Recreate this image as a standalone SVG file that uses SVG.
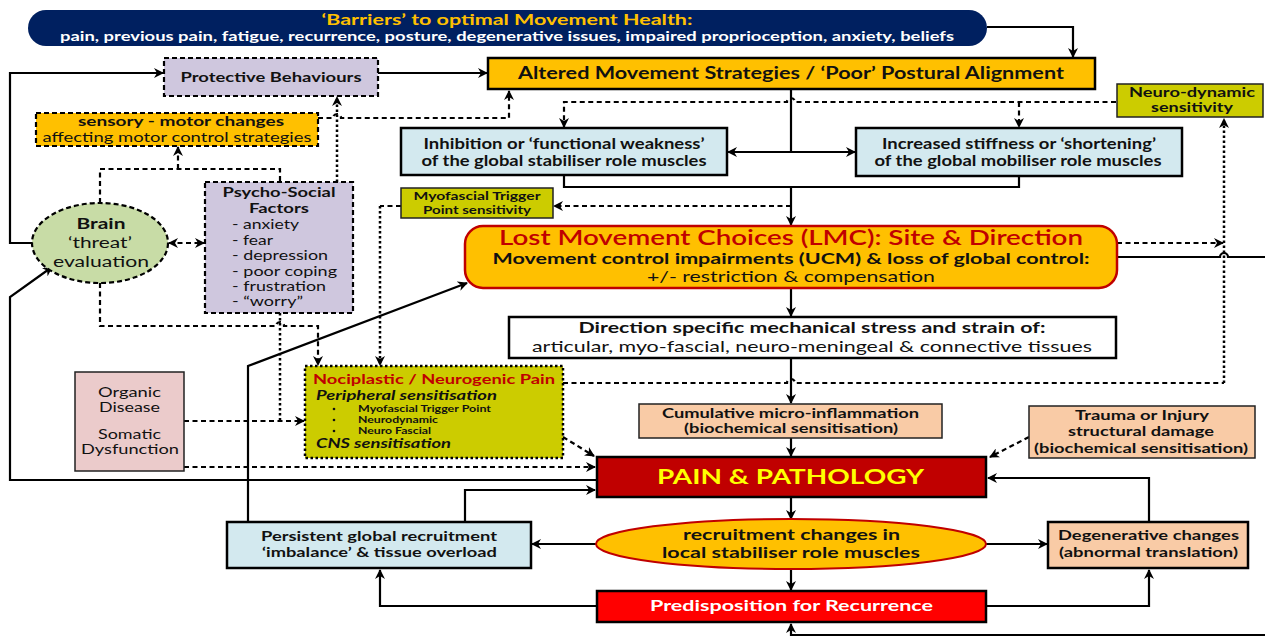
<svg xmlns="http://www.w3.org/2000/svg" width="1265" height="637" viewBox="0 0 1265 637">
  <style>
    text { font-family: Lato, "Liberation Sans", sans-serif; fill: #111; }
    .b { font-weight: bold; }
    .box { stroke: #000; stroke-width: 2.5; }
    .thin { stroke: #222; stroke-width: 1.5; }
    .dash { stroke: #000; stroke-width: 2.2; stroke-dasharray: 5 3; }
    .dot { stroke: #000; stroke-width: 2.5; stroke-dasharray: 2.5 2.5; }
    .c { fill: none; stroke: #000; stroke-width: 2.2; }
    .d { fill: none; stroke: #000; stroke-width: 2.2; stroke-dasharray: 5 3.5; }
    .t { fill: none; stroke: #000; stroke-width: 2.5; stroke-dasharray: 2.5 2.5; }
    .lav { fill: #CFC7DE; }
    .gold { fill: #FFC000; }
    .blue { fill: #D3E9EF; }
    .olive { fill: #CCCC00; }
    .peach { fill: #F9CBA6; }
  </style>
  <defs>
    <marker id="ah" viewBox="0 0 10 10" refX="9" refY="5" markerWidth="10" markerHeight="10" markerUnits="userSpaceOnUse" orient="auto-start-reverse">
      <path d="M0,0 L10,5 L0,10 L3,5 z" fill="#000"/>
    </marker>
  </defs>

  <!-- connectors -->
  <g id="connectors">
    <!-- solid -->
    <path class="c" d="M987,27 H1073 V57" marker-end="url(#ah)"/>
    <path class="c" d="M378,73 H487" marker-end="url(#ah)"/>
    <path class="c" d="M33,243 H10 V73 H163" marker-end="url(#ah)"/>
    <path class="c" d="M791,89 V152"/>
    <path class="c" d="M728,152 H855" marker-start="url(#ah)" marker-end="url(#ah)"/>
    <path class="c" d="M564,176 V187 H1019 V176"/>
    <path class="c" d="M791,187 V225" marker-end="url(#ah)"/>
    <path class="c" d="M791,288 V316" marker-end="url(#ah)"/>
    <path class="c" d="M791,358 V403" marker-end="url(#ah)"/>
    <path class="c" d="M791,438 V456" marker-end="url(#ah)"/>
    <path class="c" d="M791,497 V519" marker-end="url(#ah)"/>
    <path class="c" d="M791,569 V590" marker-end="url(#ah)"/>
    <path class="c" d="M596,544 H532" marker-end="url(#ah)"/>
    <path class="c" d="M986,544 H1047" marker-end="url(#ah)"/>
    <path class="c" d="M1149,522 V478 H988" marker-end="url(#ah)"/>
    <path class="c" d="M986,606 H1149 V570" marker-end="url(#ah)"/>
    <path class="c" d="M597,606 H380 V570" marker-end="url(#ah)"/>
    <path class="c" d="M465,522 V490 H595" marker-end="url(#ah)"/>
    <path class="c" d="M248,522 V366 L467,283" marker-end="url(#ah)"/>
    <path class="c" d="M597,480 H10 V297 L52,267" marker-end="url(#ah)"/>
    <path class="c" d="M1117,257 H1220 a4,4 0 0 1 8,0 H1275 V635 H791 V624" marker-end="url(#ah)"/>
    <!-- dashed / dotted -->
    <path class="d" d="M1116,102 H795 a4,4 0 0 0 -8,0 H564 V127" marker-end="url(#ah)"/>
    <path class="d" d="M1019,102 V127" marker-end="url(#ah)"/>
    <path class="d" d="M1117,243 H1223" marker-end="url(#ah)"/>
    <path class="d" d="M563,383 H787 a4,4 0 0 1 8,0 H1224"/>
    <path class="t" d="M1224,383 V119" marker-end="url(#ah)"/>
    <path class="d" d="M791,206 H554" marker-end="url(#ah)"/>
    <path class="d" d="M401,206 H380"/>
    <path class="t" d="M380,206 V365" marker-end="url(#ah)"/>
    <path class="d" d="M100,283 V326 H276 a4,4 0 0 1 8,0 H318 V365" marker-end="url(#ah)"/>
    <path class="t" d="M280,313 V421"/>
    <path class="d" d="M184,421 H304" marker-end="url(#ah)"/>
    <path class="d" d="M184,467 H595" marker-end="url(#ah)"/>
    <path class="d" d="M563,437 L594,456" marker-end="url(#ah)"/>
    <path class="d" d="M1029,437 L990,457" marker-end="url(#ah)"/>
    <path class="d" d="M100,203 V169 H280 V182"/>
    <path class="d" d="M178,169 V147" marker-end="url(#ah)"/>
    <path class="t" d="M337,182 V97" marker-end="url(#ah)"/>
    <path class="d" d="M318,118 H333 a4,4 0 0 1 8,0 H509 V91" marker-end="url(#ah)"/>
    <path class="d" d="M169,243 H204" marker-start="url(#ah)" marker-end="url(#ah)"/>
  </g>

  <!-- nodes -->
  <g id="barriers">
    <rect x="28" y="10" width="959" height="36" rx="18" fill="#002060"/>
    <text x="507" y="25" text-anchor="middle" class="b" font-size="16" textLength="371" lengthAdjust="spacingAndGlyphs" style="fill:#FFC000">‘Barriers’ to optimal Movement Health:</text>
    <text x="507" y="41" text-anchor="middle" class="b" font-size="14" textLength="894" lengthAdjust="spacingAndGlyphs" style="fill:#fff">pain, previous pain, fatigue, recurrence, posture, degenerative issues, impaired proprioception, anxiety, beliefs</text>
  </g>

  <g id="protective">
    <rect x="164" y="58" width="214" height="38" class="lav dash"/>
    <text x="271" y="82" text-anchor="middle" class="b" font-size="14" textLength="181" lengthAdjust="spacingAndGlyphs">Protective Behaviours</text>
  </g>

  <g id="altered">
    <rect x="488" y="58" width="607" height="31" class="gold box"/>
    <text x="791" y="79" text-anchor="middle" class="b" font-size="16.5" textLength="546" lengthAdjust="spacingAndGlyphs">Altered Movement Strategies / ‘Poor’ Postural Alignment</text>
  </g>

  <g id="neurodynamic">
    <rect x="1117" y="84" width="146" height="33" class="olive thin"/>
    <text x="1192" y="97" text-anchor="middle" class="b" font-size="13" textLength="126" lengthAdjust="spacingAndGlyphs">Neuro-dynamic</text>
    <text x="1192" y="112" text-anchor="middle" class="b" font-size="13" textLength="82" lengthAdjust="spacingAndGlyphs">sensitivity</text>
  </g>

  <g id="sensory-motor">
    <rect x="36" y="113" width="282" height="33" class="gold dash"/>
    <text x="181" y="126" text-anchor="middle" class="b" font-size="14" textLength="206" lengthAdjust="spacingAndGlyphs">sensory - motor changes</text>
    <text x="177" y="142" text-anchor="middle" font-size="14" textLength="269" lengthAdjust="spacingAndGlyphs">affecting motor control strategies</text>
  </g>

  <g id="inhibition">
    <rect x="401" y="128" width="326" height="47" class="blue box"/>
    <text x="564" y="149" text-anchor="middle" class="b" font-size="14.5" textLength="281" lengthAdjust="spacingAndGlyphs">Inhibition or ‘functional weakness’</text>
    <text x="564" y="166" text-anchor="middle" class="b" font-size="14.5" textLength="285" lengthAdjust="spacingAndGlyphs">of the global stabiliser role muscles</text>
  </g>

  <g id="stiffness">
    <rect x="856" y="128" width="326" height="48" class="blue box"/>
    <text x="1019" y="149" text-anchor="middle" class="b" font-size="14.5" textLength="274" lengthAdjust="spacingAndGlyphs">Increased stiffness or ‘shortening’</text>
    <text x="1018" y="166" text-anchor="middle" class="b" font-size="14.5" textLength="287" lengthAdjust="spacingAndGlyphs">of the global mobiliser role muscles</text>
  </g>

  <g id="trigger-point">
    <rect x="401" y="188" width="152" height="30" class="olive thin"/>
    <text x="477" y="200" text-anchor="middle" class="b" font-size="11.5" textLength="127" lengthAdjust="spacingAndGlyphs">Myofascial Trigger</text>
    <text x="477" y="214" text-anchor="middle" class="b" font-size="11.5" textLength="108" lengthAdjust="spacingAndGlyphs">Point sensitivity</text>
  </g>

  <g id="brain">
    <ellipse cx="100" cy="243" rx="68" ry="40" fill="#C8DCA6" class="dash"/>
    <text x="101" y="229" text-anchor="middle" class="b" font-size="15.5" textLength="49" lengthAdjust="spacingAndGlyphs">Brain</text>
    <text x="100" y="248" text-anchor="middle" font-size="15.5" textLength="64" lengthAdjust="spacingAndGlyphs">‘threat’</text>
    <text x="101" y="267" text-anchor="middle" font-size="15.5" textLength="96" lengthAdjust="spacingAndGlyphs">evaluation</text>
  </g>

  <g id="psycho-social">
    <rect x="205" y="182" width="148" height="131" class="lav dash"/>
    <text x="279" y="197" text-anchor="middle" class="b" font-size="13.5" textLength="113" lengthAdjust="spacingAndGlyphs">Psycho-Social</text>
    <text x="279" y="213" text-anchor="middle" class="b" font-size="13.5" textLength="60" lengthAdjust="spacingAndGlyphs">Factors</text>
    <text x="232" y="229" font-size="13.5" textLength="67" lengthAdjust="spacingAndGlyphs">- anxiety</text>
    <text x="232" y="245" font-size="13.5" textLength="41" lengthAdjust="spacingAndGlyphs">- fear</text>
    <text x="232" y="260" font-size="13.5" textLength="96" lengthAdjust="spacingAndGlyphs">- depression</text>
    <text x="232" y="276" font-size="13.5" textLength="105" lengthAdjust="spacingAndGlyphs">- poor coping</text>
    <text x="232" y="291" font-size="13.5" textLength="94" lengthAdjust="spacingAndGlyphs">- frustration</text>
    <text x="232" y="306" font-size="13.5" textLength="71" lengthAdjust="spacingAndGlyphs">- “worry”</text>
  </g>

  <g id="lmc">
    <rect x="465" y="226" width="652" height="62" rx="18" fill="#FFC000" stroke="#C00000" stroke-width="2.5"/>
    <text x="791" y="245" text-anchor="middle" font-size="21" font-weight="600" textLength="584" lengthAdjust="spacingAndGlyphs" style="fill:#C00000">Lost Movement Choices (LMC): Site &amp; Direction</text>
    <text x="791" y="264" text-anchor="middle" class="b" font-size="16" textLength="597" lengthAdjust="spacingAndGlyphs">Movement control impairments (UCM) &amp; loss of global control:</text>
    <text x="791" y="282" text-anchor="middle" font-size="16" textLength="288" lengthAdjust="spacingAndGlyphs">+/- restriction &amp; compensation</text>
  </g>

  <g id="mechanical-stress">
    <rect x="509" y="317" width="607" height="41" fill="#fff" class="box"/>
    <text x="812" y="333" text-anchor="middle" class="b" font-size="15.5" textLength="467" lengthAdjust="spacingAndGlyphs">Direction specific mechanical stress and strain of:</text>
    <text x="812" y="352" text-anchor="middle" font-size="16" textLength="560" lengthAdjust="spacingAndGlyphs">articular, myo-fascial, neuro-meningeal &amp; connective tissues</text>
  </g>

  <g id="organic">
    <rect x="75" y="372" width="109" height="99" fill="#EBCBCB" class="thin"/>
    <text x="129.5" y="397" text-anchor="middle" font-size="14" textLength="63" lengthAdjust="spacingAndGlyphs">Organic</text>
    <text x="129.5" y="412" text-anchor="middle" font-size="14" textLength="61" lengthAdjust="spacingAndGlyphs">Disease</text>
    <text x="129.5" y="439" text-anchor="middle" font-size="14" textLength="63" lengthAdjust="spacingAndGlyphs">Somatic</text>
    <text x="130" y="454" text-anchor="middle" font-size="14" textLength="98" lengthAdjust="spacingAndGlyphs">Dysfunction</text>
  </g>

  <g id="nociplastic">
    <rect x="305" y="366" width="258" height="92" class="olive dot"/>
    <text x="313" y="384" class="b" font-size="13.5" textLength="242" lengthAdjust="spacingAndGlyphs" style="fill:#C00000">Nociplastic / Neurogenic Pain</text>
    <text x="316" y="400" class="b" font-size="13.5" font-style="italic" textLength="181" lengthAdjust="spacingAndGlyphs">Peripheral sensitisation</text>
    <circle cx="334" cy="409" r="1.3" fill="#111"/>
    <circle cx="334" cy="420" r="1.3" fill="#111"/>
    <circle cx="334" cy="431" r="1.3" fill="#111"/>
    <text x="358" y="412" class="b" font-size="9.5" textLength="133" lengthAdjust="spacingAndGlyphs">Myofascial Trigger Point</text>
    <text x="358" y="423" class="b" font-size="9.5" textLength="80" lengthAdjust="spacingAndGlyphs">Neurodynamic</text>
    <text x="358" y="434" class="b" font-size="9.5" textLength="73" lengthAdjust="spacingAndGlyphs">Neuro Fascial</text>
    <text x="316" y="448" class="b" font-size="13.5" font-style="italic" textLength="135" lengthAdjust="spacingAndGlyphs">CNS sensitisation</text>
  </g>

  <g id="micro-inflammation">
    <rect x="639" y="404" width="303" height="34" class="peach thin"/>
    <text x="790.5" y="418" text-anchor="middle" class="b" font-size="13.5" textLength="257" lengthAdjust="spacingAndGlyphs">Cumulative micro-inflammation</text>
    <text x="791" y="433" text-anchor="middle" class="b" font-size="13.5" textLength="214" lengthAdjust="spacingAndGlyphs">(biochemical sensitisation)</text>
  </g>

  <g id="trauma">
    <rect x="1029" y="406" width="226" height="52" class="peach thin"/>
    <text x="1142" y="420" text-anchor="middle" class="b" font-size="13.5" textLength="134" lengthAdjust="spacingAndGlyphs">Trauma or Injury</text>
    <text x="1141" y="436" text-anchor="middle" class="b" font-size="13.5" textLength="146" lengthAdjust="spacingAndGlyphs">structural damage</text>
    <text x="1141" y="453" text-anchor="middle" class="b" font-size="13.5" textLength="214" lengthAdjust="spacingAndGlyphs">(biochemical sensitisation)</text>
  </g>

  <g id="pain">
    <rect x="597" y="457" width="389" height="40" fill="#C00000" class="box"/>
    <text x="790.5" y="484" text-anchor="middle" class="b" font-size="20" textLength="267" lengthAdjust="spacingAndGlyphs" style="fill:#FFFF00">PAIN &amp; PATHOLOGY</text>
  </g>

  <g id="persistent">
    <rect x="227" y="522" width="304" height="46" class="blue box"/>
    <text x="379" y="541" text-anchor="middle" class="b" font-size="14" textLength="236" lengthAdjust="spacingAndGlyphs">Persistent global recruitment</text>
    <text x="379.5" y="557" text-anchor="middle" class="b" font-size="14" textLength="235" lengthAdjust="spacingAndGlyphs">‘imbalance’ &amp; tissue overload</text>
  </g>

  <g id="recruitment">
    <ellipse cx="791" cy="544" rx="195" ry="25" fill="#FFC000" stroke="#C00000" stroke-width="2"/>
    <text x="791.5" y="540" text-anchor="middle" class="b" font-size="15.5" textLength="217" lengthAdjust="spacingAndGlyphs">recruitment changes in</text>
    <text x="791" y="558" text-anchor="middle" class="b" font-size="15.5" textLength="258" lengthAdjust="spacingAndGlyphs">local stabiliser role muscles</text>
  </g>

  <g id="degenerative">
    <rect x="1048" y="522" width="200" height="46" class="peach box"/>
    <text x="1148.5" y="540" text-anchor="middle" class="b" font-size="13.5" textLength="181" lengthAdjust="spacingAndGlyphs">Degenerative changes</text>
    <text x="1148.5" y="557" text-anchor="middle" class="b" font-size="13.5" textLength="179" lengthAdjust="spacingAndGlyphs">(abnormal translation)</text>
  </g>

  <g id="recurrence">
    <rect x="597" y="591" width="389" height="31" fill="#FF0000" class="box"/>
    <text x="791.5" y="611" text-anchor="middle" class="b" font-size="16" textLength="283" lengthAdjust="spacingAndGlyphs" style="fill:#fff">Predisposition for Recurrence</text>
  </g>
</svg>
